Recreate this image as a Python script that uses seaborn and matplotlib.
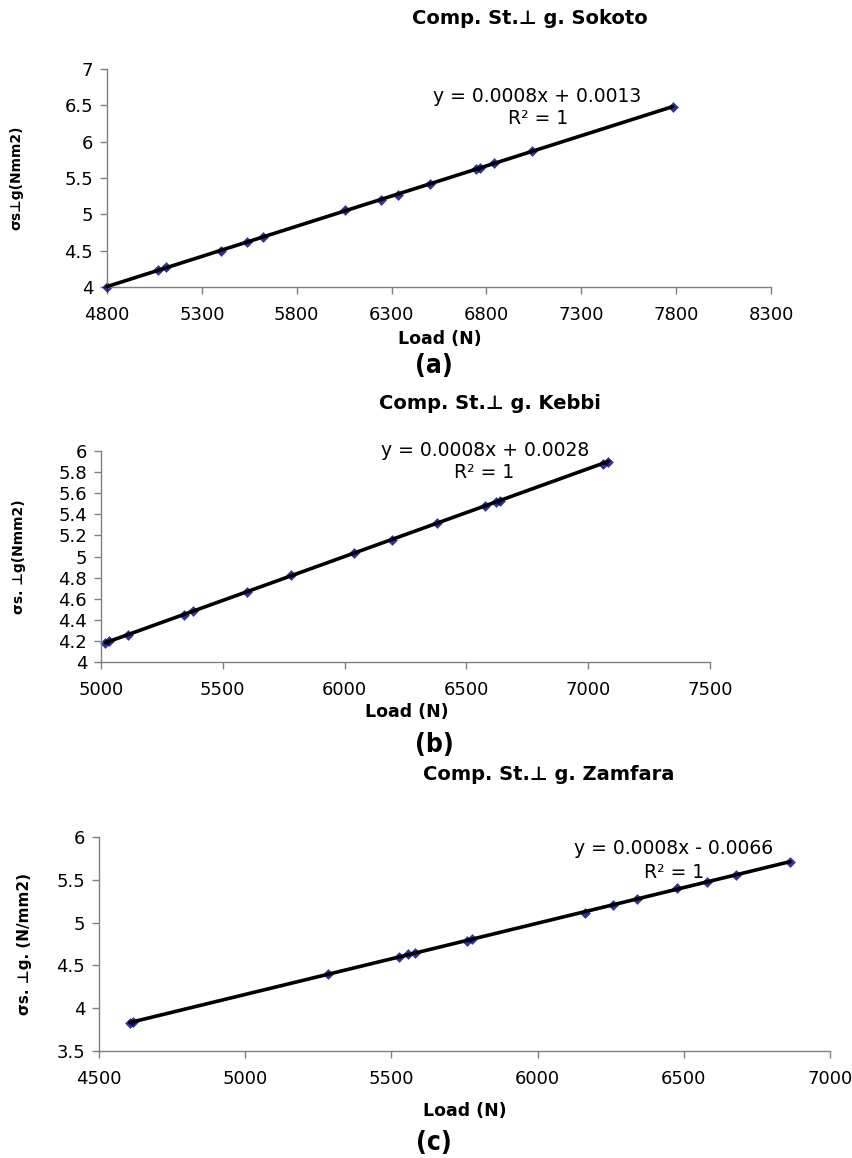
import numpy as np
import pandas as pd
import matplotlib
matplotlib.use('Agg')
import matplotlib.pyplot as plt
import seaborn as sns
from matplotlib import font_manager
from matplotlib.ticker import FuncFormatter

# --- dati (Load in N, tensione in N/mm2) ---
load_sokoto = [4800, 5070, 5113, 5401, 5536, 5620, 6054, 6244, 6336, 6500, 6744, 6767, 6839, 7040, 7782]
stress_sokoto = [4.00, 4.23, 4.27, 4.50, 4.62, 4.69, 5.06, 5.20, 5.27, 5.42, 5.62, 5.64, 5.70, 5.87, 6.48]

load_kebbi = [5018, 5034, 5112, 5340, 5376, 5598, 5780, 6037, 6194, 6378, 6577, 6620, 6637, 7060, 7083]
stress_kebbi = [4.18, 4.20, 4.26, 4.45, 4.48, 4.66, 4.82, 5.03, 5.16, 5.32, 5.48, 5.52, 5.53, 5.88, 5.90]

load_zamfara = [4605, 4616, 5282, 5525, 5558, 5580, 5757, 5774, 6163, 6258, 6340, 6477, 6581, 6678, 6863]
stress_zamfara = [3.83, 3.84, 4.40, 4.60, 4.63, 4.64, 4.79, 4.81, 5.11, 5.21, 5.27, 5.40, 5.48, 5.56, 5.71]

titles = ['Comp. St.\u22a5 g. Sokoto', 'Comp. St.\u22a5 g. Kebbi', 'Comp. St.\u22a5 g. Zamfara']
equations = ['y = 0.0008x + 0.0013', 'y = 0.0008x + 0.0028', 'y = 0.0008x - 0.0066']
ylabels = ['\u03c3s\u22a5g(Nmm2)', '\u03c3s. \u22a5g(Nmm2)', '\u03c3s. \u22a5g. (N/mm2)']
panel_tags = ['(a)', '(b)', '(c)']

W, H = 853, 1158

sns.set_style('white')
plt.rcParams['font.family'] = ['DejaVu Sans']
plt.rcParams['text.color'] = 'black'


def has_font(name, **kw):
    try:
        fp = font_manager.FontProperties(family=name, **kw)
        font_manager.findfont(fp, fallback_to_default=False)
        return True
    except Exception:
        return False


# font stretto per le etichette (a), (b), (c)
if has_font('Liberation Sans Narrow'):
    tag_font = dict(family='Liberation Sans Narrow')
else:
    tag_font = dict(family='DejaVu Sans', stretch='condensed')

fig = plt.figure(figsize=(W / 100, H / 100), dpi=100)


def px_axes(left, top, right, bottom):
    return fig.add_axes([left / W, 1 - bottom / H, (right - left) / W, (bottom - top) / H])


def ftext(x, y, s, **kw):
    fig.text(x / W, 1 - y / H, s, ha='center', va='center', color='black', **kw)


# posizioni in pixel (sinistra, alto, destra, basso) degli assi
boxes = [(107, 69, 771, 287), (101, 451, 710, 662), (99, 837, 830, 1051)]
xlims = [(4800, 8300), (5000, 7500), (4500, 7000)]
ylims = [(4, 7), (4, 6), (3.5, 6)]
ysteps = [0.5, 0.2, 0.5]
datasets = [(load_sokoto, stress_sokoto), (load_kebbi, stress_kebbi), (load_zamfara, stress_zamfara)]

title_pos = [(530, 19), (490, 403), (549, 775)]
eq_pos = [(537, 96), (485, 450), (674, 848)]
r2_pos = [(538, 118), (484, 472), (674, 873)]
xlabel_pos = [(440, 339), (407, 712), (465, 1111)]
tag_pos = [(434, 366), (434, 745), (434, 1143)]
ylabel_x = [16, 19, 25]

for i in range(3):
    ax = px_axes(*boxes[i])
    x, y = datasets[i]
    df = pd.DataFrame({'load': x, 'stress': y})
    sns.regplot(data=df, x='load', y='stress', ax=ax, ci=None, truncate=True,
                marker='D', scatter_kws={'color': '#000080', 's': 30, 'zorder': 2,
                                         'linewidths': 0, 'clip_on': False},
                line_kws={'color': 'black', 'lw': 2.6, 'zorder': 3, 'clip_on': False})
    x0, x1 = xlims[i]
    y0, y1 = ylims[i]
    ax.set_xlim(x0, x1)
    ax.set_ylim(y0, y1)
    ax.set_xticks(np.arange(x0, x1 + 1, 500))
    ax.set_yticks(np.arange(y0, y1 + ysteps[i] / 2, ysteps[i]))
    ax.yaxis.set_major_formatter(FuncFormatter(lambda v, p: f'{round(v, 2):g}'))
    ax.set_xlabel('')
    ax.set_ylabel('')
    for s in ['top', 'right']:
        ax.spines[s].set_visible(False)
    for s in ['left', 'bottom']:
        ax.spines[s].set_color('#808080')
        ax.spines[s].set_linewidth(1.0)
    ax.tick_params(axis='both', direction='out', length=5, width=1, color='#808080',
                   labelcolor='black', labelsize=13, pad=5, left=True, bottom=True)
    ax.tick_params(axis='x', pad=9)

    ftext(*title_pos[i], titles[i], fontsize=14, fontweight='bold')
    ftext(*eq_pos[i], equations[i], fontsize=13.5)
    ftext(*r2_pos[i], 'R\u00b2 = 1', fontsize=13.5)
    ftext(*xlabel_pos[i], 'Load (N)', fontsize=12.5, fontweight='bold')
    ftext(*tag_pos[i], panel_tags[i], fontsize=19, fontweight='bold', **tag_font)
    ycen = (boxes[i][1] + boxes[i][3]) / 2
    ftext(ylabel_x[i], ycen, ylabels[i], fontsize=10 if i < 2 else 11,
          fontweight='bold', rotation=90)

fig.savefig('out.png', dpi=100)
